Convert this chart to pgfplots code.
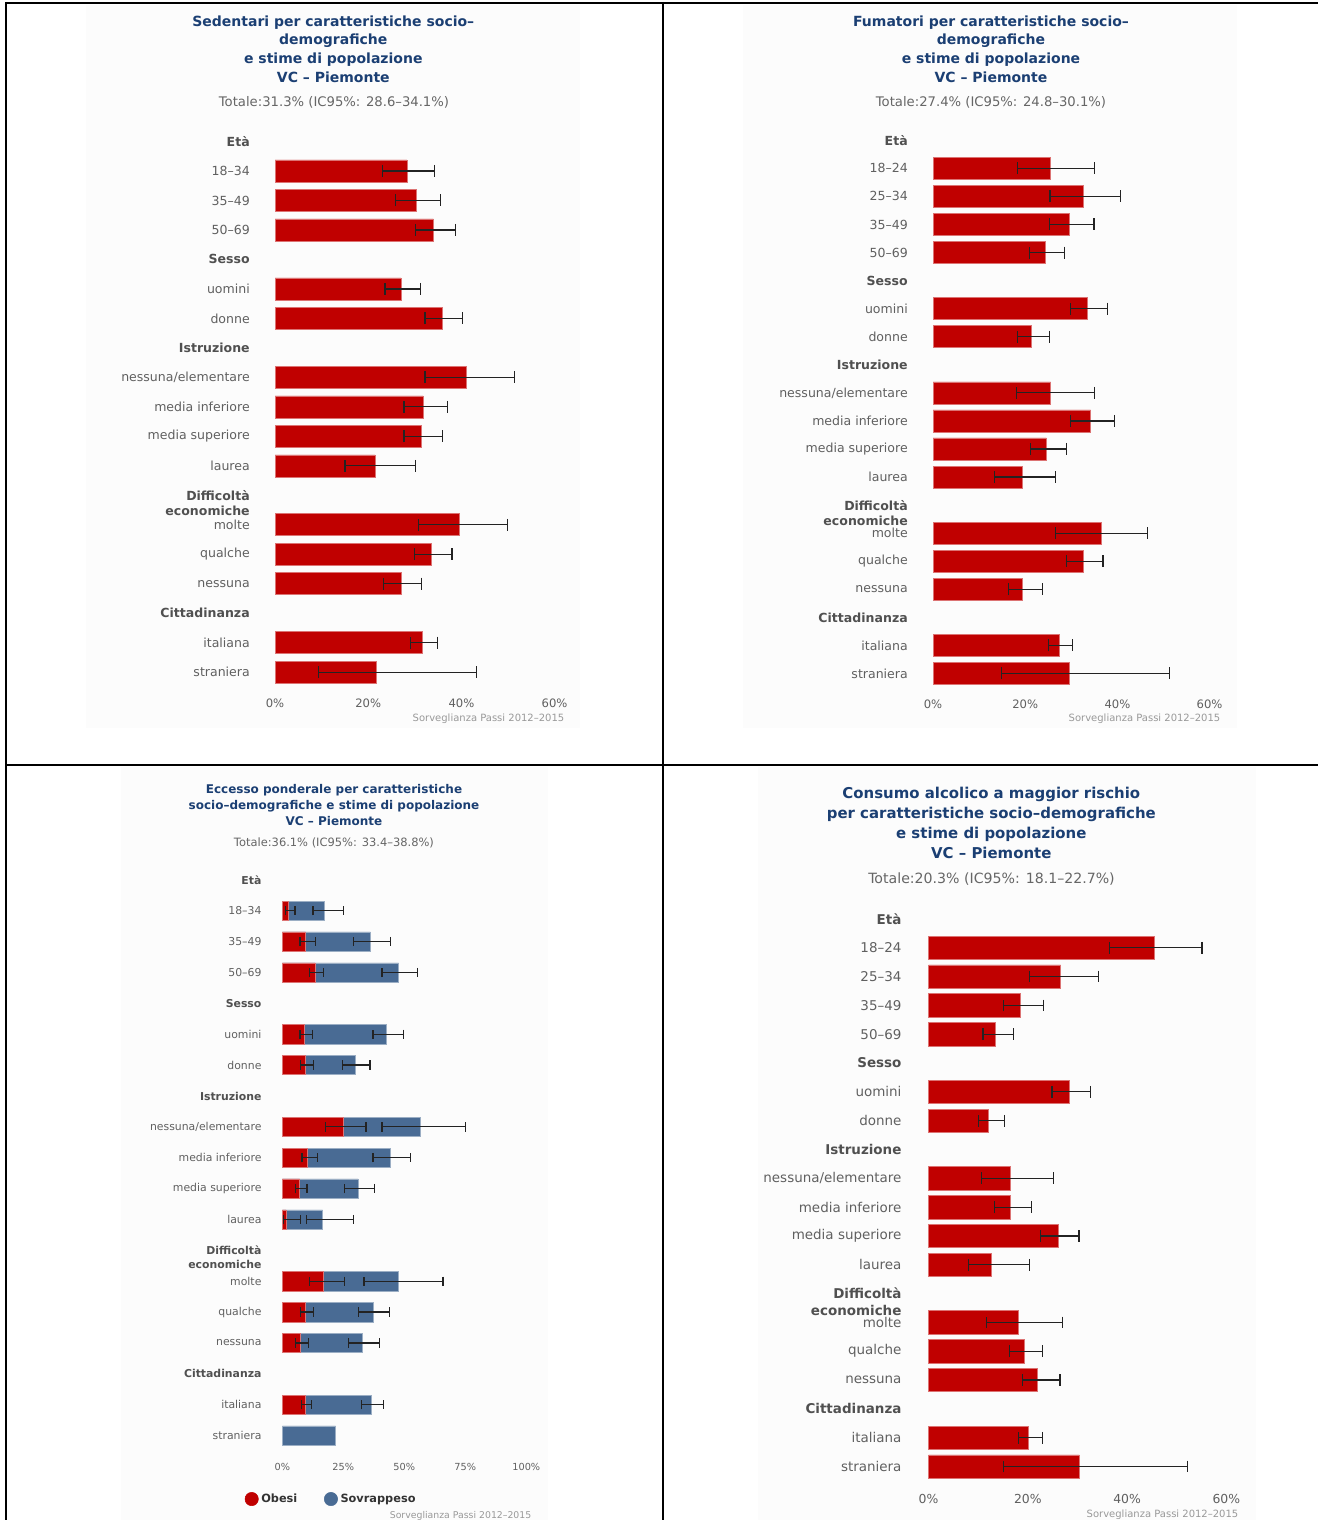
\documentclass[border=0pt]{standalone}
\usepackage{fontspec}
\setmainfont{DejaVu Sans}
\usepackage{pgfplots}
\usepackage{pgfplotstable}
\pgfplotsset{compat=1.18}

\definecolor{cRed}{RGB}{192,0,0}
\definecolor{cBlue}{RGB}{73,107,148}
\definecolor{cTitle}{RGB}{27,63,115}
\definecolor{cTick}{RGB}{96,96,96}
\definecolor{cHead}{RGB}{80,80,80}
\definecolor{cSub}{RGB}{102,102,102}
\definecolor{cCred}{RGB}{153,153,153}
\definecolor{cErr}{RGB}{35,35,35}
\definecolor{cLeg}{RGB}{51,51,51}
\definecolor{cBg}{RGB}{252,252,252}

% bold group headings on the category axis
\newcommand{\hd}[1]{\textcolor{cHead}{\bfseries #1}}
\newcommand{\hdd}{\textcolor{cHead}{\bfseries Difficoltà\smash{\makebox[0pt][r]{\raisebox{-1.25em}{economiche}}}}}

% Sedentari: row, estimate, 95% CI
\pgfplotstableread{
pos v lo hi
1 28.3 23.1 34.2
2 30.3 25.9 35.5
3 34.0 30.1 38.8
5 27.0 23.6 31.2
6 35.8 32.2 40.3
8 41.1 32.2 51.4
9 31.8 27.7 37.0
10 31.3 27.7 36.0
11 21.5 15.0 30.1
13 39.6 30.8 49.9
14 33.6 30.0 38.0
15 27.0 23.3 31.4
17 31.5 29.1 34.8
18 21.7 9.4 43.3
}\sedentari

% Fumatori
\pgfplotstableread{
pos v lo hi
1 25.5 18.4 35.1
2 32.6 25.4 40.7
3 29.6 25.2 34.9
4 24.3 21.0 28.6
6 33.4 29.9 37.9
7 21.3 18.4 25.2
9 25.5 18.1 35.1
10 34.2 29.8 39.4
11 24.6 21.1 29.0
12 19.4 13.4 26.5
14 36.4 26.5 46.5
15 32.6 28.9 36.9
16 19.4 16.3 23.7
18 27.3 25.0 30.3
19 29.6 14.8 51.3
}\fumatori

% Consumo alcolico a maggior rischio
\pgfplotstableread{
pos v lo hi
1 45.4 36.4 55.1
2 26.6 20.4 34.3
3 18.5 15.1 23.2
4 13.4 11.0 17.1
6 28.4 24.9 32.6
7 12.1 10.0 15.3
9 16.5 10.7 25.2
10 16.5 13.3 20.7
11 26.1 22.5 30.3
12 12.7 8.0 20.4
14 18.0 11.7 27.0
15 19.2 16.3 22.9
16 22.0 19.0 26.5
18 20.0 18.1 22.9
19 30.4 15.1 52.1
}\alcol

% Eccesso ponderale: obesi and sovrappeso (stacked)
\pgfplotstableread{
pos ob sov
1 2.3 15.1
2 9.6 26.5
3 13.4 34.3
5 9.2 33.6
6 9.6 20.2
8 24.9 31.5
9 10.4 34.0
10 7.1 24.0
11 1.6 14.9
13 16.7 31.0
14 9.6 27.7
15 7.5 25.3
17 9.6 26.9
18 0.0 21.9
}\eccesso

% Eccesso ponderale: confidence intervals as drawn on the scale
\pgfplotstableread{
pos oblo obhi sovlo sovhi
1 1.2 5.2 12.6 25.2
2 7.3 13.5 29.1 44.3
3 11.1 16.8 40.9 55.5
5 7.3 12.5 37.2 49.6
6 7.5 12.7 24.6 35.9
8 17.6 34.3 40.9 75.0
9 8.1 14.3 37.2 52.6
10 5.5 10.1 25.4 37.7
11 0.6 7.4 10.0 29.1
13 11.1 25.4 33.5 65.9
14 7.5 12.7 31.3 43.9
15 5.5 10.7 27.2 39.8
17 7.9 12.0 32.4 41.4
}\eccessoci

\pgfplotsset{
  pnl/.style={
    scale only axis,
    anchor=north west,
    axis line style={draw=none},
    major tick length=0pt,
    tick style={draw=none},
    y dir=reverse,
    xmin=0,
    clip=false,
    tick label style={inner sep=0pt, text=cTick},
    yticklabel style={anchor=east},
    xticklabel style={anchor=north},
  },
  ebar/.style={
    /pgfplots/error bars/x dir=both,
    /pgfplots/error bars/x explicit,
    /pgfplots/error bars/error bar style={line width=0.95pt, draw=cErr},
    /pgfplots/error bars/error mark options={draw=cErr, line width=0.95pt, mark size=#1, rotate=90},
  },
  redbar/.style={xbar, bar shift=0pt, fill=cRed, draw=cRed!55!white, line width=0.4pt},
}

\begin{document}
\begin{tikzpicture}
\begin{scope}[x=0.75pt, y=-0.75pt]
  \path[use as bounding box] (0,0) rectangle (1318,1520);
  % panel backgrounds
  \fill[cBg] (86,5) rectangle (580,728);
  \fill[cBg] (743,5) rectangle (1237,728);
  \fill[cBg] (121,767) rectangle (548,1520);
  \fill[cBg] (758,767) rectangle (1256,1520);
  % frame lines between the four charts
  \draw[line width=1.6pt] (5,3) -- (1318,3);
  \draw[line width=1.6pt] (6,2) -- (6,1520);
  \draw[line width=1.6pt] (663,2) -- (663,1520);
  \draw[line width=1.6pt] (6,765) -- (1318,765);

  % titles
  \node[align=center, text=cTitle, font=\fontsize{10.5}{14}\selectfont\bfseries]
    at (333.3,49) {Sedentari per caratteristiche socio–\\demografiche\\e stime di popolazione\\VC – Piemonte};
  \node[text=cSub, font=\fontsize{9.9}{12}\selectfont] at (334,102) {Totale:31.3\% (IC95\%: 28.6–34.1\%)};
  \node[anchor=east, text=cCred, font=\fontsize{7.5}{9}\selectfont] at (569,719) {Sorveglianza Passi 2012–2015};

  \node[align=center, text=cTitle, font=\fontsize{10.5}{14}\selectfont\bfseries]
    at (991,49) {Fumatori per caratteristiche socio–\\demografiche\\e stime di popolazione\\VC – Piemonte};
  \node[text=cSub, font=\fontsize{9.9}{12}\selectfont] at (991,102) {Totale:27.4\% (IC95\%: 24.8–30.1\%)};
  \node[anchor=east, text=cCred, font=\fontsize{7.5}{9}\selectfont] at (1225,719) {Sorveglianza Passi 2012–2015};

  \node[align=center, text=cTitle, font=\fontsize{9}{12.2}\selectfont\bfseries]
    at (334,805) {Eccesso ponderale per caratteristiche\\socio–demografiche e stime di popolazione\\VC – Piemonte};
  \node[text=cSub, font=\fontsize{8.6}{10}\selectfont] at (334,842.5) {Totale:36.1\% (IC95\%: 33.4–38.8\%)};
  \node[anchor=east, text=cCred, font=\fontsize{7}{8}\selectfont] at (536,1516) {Sorveglianza Passi 2012–2015};

  \node[align=center, text=cTitle, font=\fontsize{11.2}{15}\selectfont\bfseries]
    at (991.3,822.7) {Consumo alcolico a maggior rischio\\per caratteristiche socio–demografiche\\e stime di popolazione\\VC – Piemonte};
  \node[text=cSub, font=\fontsize{10.6}{12}\selectfont] at (991.5,879.3) {Totale:20.3\% (IC95\%: 18.1–22.7\%)};
  \node[anchor=east, text=cCred, font=\fontsize{7.5}{9}\selectfont] at (1243,1515) {Sorveglianza Passi 2012–2015};
\end{scope}

% Sedentari
\begin{axis}[pnl, at={(206.25pt,-95.07pt)},
  width=209.7pt, height=420.1pt, xmax=60, ymin=-0.5, ymax=18.5,
  xtick={0,20,40,60}, xticklabels={0\%,20\%,40\%,60\%},
  ytick={0,...,18},
  yticklabels={\hd{Età},18–34,35–49,50–69,\hd{Sesso},uomini,donne,\hd{Istruzione},nessuna/elementare,media inferiore,media superiore,laurea,\hdd,molte,qualche,nessuna,\hd{Cittadinanza},italiana,straniera},
  bar width=16.5pt,
  xticklabel shift=8.5pt, yticklabel shift=18.75pt,
  yticklabel style={font=\fontsize{9.4}{11}\selectfont},
  xticklabel style={font=\fontsize{8.7}{10}\selectfont}]
\addplot[redbar, ebar=4.5pt] table[x=v, y=pos,
  x error plus expr=\thisrow{hi}-\thisrow{v}, x error minus expr=\thisrow{v}-\thisrow{lo}] {\sedentari};
\end{axis}

% Fumatori
\begin{axis}[pnl, at={(699.75pt,-94.70pt)},
  width=207.45pt, height=420.9pt, xmax=60, ymin=-0.5, ymax=19.5,
  xtick={0,20,40,60}, xticklabels={0\%,20\%,40\%,60\%},
  ytick={0,...,19},
  yticklabels={\hd{Età},18–24,25–34,35–49,50–69,\hd{Sesso},uomini,donne,\hd{Istruzione},nessuna/elementare,media inferiore,media superiore,laurea,\hdd,molte,qualche,nessuna,\hd{Cittadinanza},italiana,straniera},
  bar width=16.5pt,
  xticklabel shift=9.4pt, yticklabel shift=18.75pt,
  yticklabel style={font=\fontsize{9.4}{11}\selectfont},
  xticklabel style={font=\fontsize{8.7}{10}\selectfont}]
\addplot[redbar, ebar=4.5pt] table[x=v, y=pos,
  x error plus expr=\thisrow{hi}-\thisrow{v}, x error minus expr=\thisrow{v}-\thisrow{lo}] {\fumatori};
\end{axis}

% Eccesso ponderale
\begin{axis}[pnl, at={(211.73pt,-648.27pt)},
  width=183pt, height=440pt, xmax=100, ymin=-0.5, ymax=18.5,
  xtick={0,25,50,75,100}, xticklabels={0\%,25\%,50\%,75\%,100\%},
  ytick={0,...,18},
  yticklabels={\hd{Età},18–34,35–49,50–69,\hd{Sesso},uomini,donne,\hd{Istruzione},nessuna/elementare,media inferiore,media superiore,laurea,\hdd,molte,qualche,nessuna,\hd{Cittadinanza},italiana,straniera},
  bar width=14.5pt,
  xticklabel shift=8.7pt, yticklabel shift=15.45pt,
  yticklabel style={font=\fontsize{8.15}{10}\selectfont},
  xticklabel style={font=\fontsize{7.3}{9}\selectfont},
  reverse legend,
  legend columns=2,
  legend style={draw=none, fill=none, at={(axis description cs:0.2016,-0.0818)}, anchor=center,
    font=\fontsize{8.5}{10}\selectfont\bfseries, text=cLeg,
    /tikz/every even column/.append style={column sep=18pt}}]
\addplot[xbar, bar shift=0pt, fill=cBlue, draw=cBlue!55!white, line width=0.4pt,
  legend image code/.code={\fill[cBlue] (0pt,0pt) circle (5pt);}]
  table[y=pos, x expr=\thisrow{ob}+\thisrow{sov}] {\eccesso};
\addlegendentry{Sovrappeso}
\addplot[redbar, restrict x to domain=0.01:100,
  legend image code/.code={\fill[cRed] (0pt,0pt) circle (5pt);}]
  table[y=pos, x=ob] {\eccesso};
\addlegendentry{Obesi}
\addplot[draw=none, mark=none, forget plot, ebar=3.5pt]
  table[y=pos, x expr=(\thisrow{oblo}+\thisrow{obhi})/2,
    x error expr=(\thisrow{obhi}-\thisrow{oblo})/2] {\eccessoci};
\addplot[draw=none, mark=none, forget plot, ebar=3.5pt]
  table[y=pos, x expr=(\thisrow{sovlo}+\thisrow{sovhi})/2,
    x error expr=(\thisrow{sovhi}-\thisrow{sovlo})/2] {\eccessoci};
\end{axis}

% Consumo alcolico
\begin{axis}[pnl, at={(696.38pt,-678.38pt)},
  width=223.4pt, height=432.3pt, xmax=60, ymin=-0.5, ymax=19.5,
  xtick={0,20,40,60}, xticklabels={0\%,20\%,40\%,60\%},
  ytick={0,...,19},
  yticklabels={\hd{Età},18–24,25–34,35–49,50–69,\hd{Sesso},uomini,donne,\hd{Istruzione},nessuna/elementare,media inferiore,media superiore,laurea,\hdd,molte,qualche,nessuna,\hd{Cittadinanza},italiana,straniera},
  bar width=17.5pt,
  xticklabel shift=9.8pt, yticklabel shift=20.1pt,
  yticklabel style={font=\fontsize{10.1}{12}\selectfont},
  xticklabel style={font=\fontsize{9.3}{11}\selectfont}]
\addplot[redbar, ebar=4.4pt] table[x=v, y=pos,
  x error plus expr=\thisrow{hi}-\thisrow{v}, x error minus expr=\thisrow{v}-\thisrow{lo}] {\alcol};
\end{axis}
\end{tikzpicture}
\end{document}
